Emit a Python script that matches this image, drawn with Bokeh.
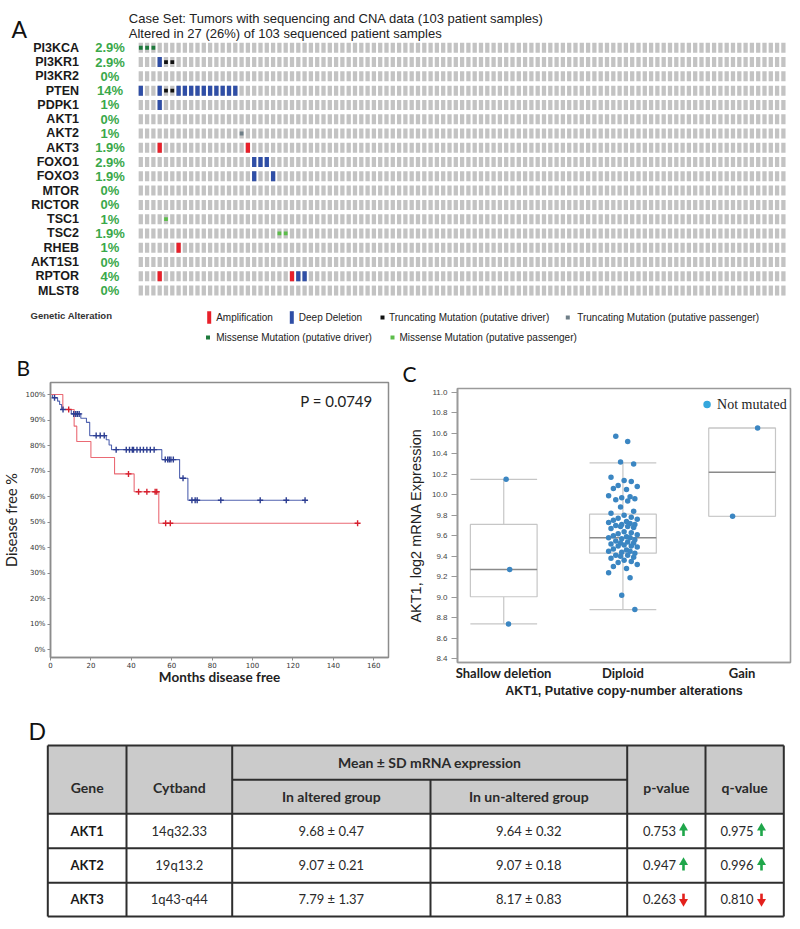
from bokeh.plotting import figure
from bokeh.layouts import column, row
from bokeh.models import Range1d, FixedTicker, NumeralTickFormatter, PrintfTickFormatter, Title
from bokeh.embed import file_html
from bokeh.resources import INLINE
from bokeh.core.properties import value

# ---------------- Panel A data ----------------
genes = ["PI3KCA", "PI3KR1", "PI3KR2", "PTEN", "PDPK1", "AKT1", "AKT2", "AKT3", "FOXO1",
         "FOXO3", "MTOR", "RICTOR", "TSC1", "TSC2", "RHEB", "AKT1S1", "RPTOR", "MLST8"]
gene_pct = ["2.9%", "2.9%", "0%", "14%", "1%", "0%", "1%", "1.9%", "2.9%",
            "1.9%", "0%", "0%", "1%", "1.9%", "1%", "0%", "4%", "0%"]
n_samples = 103
case_set_text = "Case Set: Tumors with sequencing and CNA data (103 patient samples)"
altered_text = "Altered in 27 (26%) of 103 sequenced patient samples"
alt_gene = (["PI3KCA"] * 3 + ["PI3KR1"] * 3 + ["PTEN"] * 14 + ["PDPK1"] + ["AKT2"] + ["AKT3"] * 2
            + ["FOXO1"] * 3 + ["FOXO3"] * 2 + ["TSC1"] + ["TSC2"] * 2 + ["RHEB"] + ["RPTOR"] * 4)
alt_sample = [0, 1, 2, 3, 4, 5, 0, 3, 4, 5, 6, 7, 8, 9, 10, 11, 12, 13, 14, 15, 3, 16, 3, 17,
              18, 19, 20, 18, 21, 4, 22, 23, 6, 3, 24, 25, 26]
alt_type = (["MIS_D"] * 3 + ["DEL", "TRU_D", "TRU_D"] + ["DEL", "DEL", "TRU_D", "TRU_D"] + ["DEL"] * 10
            + ["DEL"] + ["TRU_P"] + ["AMP", "AMP"] + ["DEL"] * 3 + ["DEL"] * 2 + ["MIS_P"]
            + ["MIS_P"] * 2 + ["AMP"] + ["AMP", "AMP", "DEL", "DEL"])
legend_labels = ["Amplification", "Deep Deletion", "Truncating Mutation (putative driver)",
                 "Truncating Mutation (putative passenger)", "Missense Mutation (putative driver)",
                 "Missense Mutation (putative passenger)"]

# ---------------- Panel B data ----------------
blue_time = [0, 1.0, 3.5, 4.5, 5.5, 10.3, 15.0, 17.8, 19.4, 27.6, 29.0, 30.2, 55.1, 63.9, 68.0, 126.0]
blue_surv = [100, 98.7, 97.4, 96.1, 94.1, 92.4, 90.7, 89.1, 83.9, 82.3, 80.2, 78.4, 74.5, 67.2, 58.6, 58.6]
blue_cens_t = [2.0, 6.2, 11.5, 12.5, 13.3, 14.2, 22.6, 24.6, 26.6, 32.5, 37.5, 39.1, 40.5, 41.1, 42.8,
               44.4, 46.0, 47.7, 49.4, 51.3, 56.8, 58.0, 58.8, 59.6, 60.8, 65.6, 70.0, 71.6, 72.6,
               84.3, 103.8, 116.7, 126.0]
blue_cens_s = [98.7, 94.1, 92.4, 92.4, 92.4, 92.4, 83.9, 83.9, 83.9, 78.4, 78.4, 78.4, 78.4, 78.4, 78.4,
               78.4, 78.4, 78.4, 78.4, 78.4, 74.5, 74.5, 74.5, 74.5, 74.5, 67.2, 58.6, 58.6, 58.6,
               58.6, 58.6, 58.6, 58.6]
red_time = [0, 6.1, 11.7, 13.0, 20.0, 31.7, 41.4, 53.6, 152.0]
red_surv = [100, 94.1, 87.6, 81.6, 75.3, 68.9, 61.9, 49.6, 49.6]
red_cens_t = [9.0, 38.6, 43.6, 47.7, 51.8, 52.6, 57.0, 59.3, 152.0]
red_cens_s = [94.1, 68.9, 61.9, 61.9, 61.9, 61.9, 49.6, 49.6, 49.6]
km_xticks = [0, 20, 40, 60, 80, 100, 120, 140, 160]
km_yticks = [0, 10, 20, 30, 40, 50, 60, 70, 80, 90, 100]
p_text = "P = 0.0749"

# ---------------- Panel C data ----------------
cna_categories = ["Shallow deletion", "Diploid", "Gain"]
shallow_vals = [10.15, 9.27, 8.74]
diploid_vals = [10.57, 10.52, 10.32, 10.30, 10.17, 10.14, 10.13, 10.09, 10.08, 10.06, 10.05, 9.99,
                9.98, 9.97, 9.96, 9.95, 9.94, 9.88, 9.84, 9.82, 9.80, 9.78, 9.77, 9.76, 9.75, 9.74,
                9.73, 9.72, 9.71, 9.71, 9.70, 9.69, 9.69, 9.68, 9.67, 9.64, 9.63, 9.62, 9.61, 9.60,
                9.59, 9.58, 9.58, 9.57, 9.56, 9.55, 9.54, 9.53, 9.53, 9.52, 9.51, 9.50, 9.50, 9.49,
                9.47, 9.46, 9.45, 9.45, 9.44, 9.43, 9.41, 9.41, 9.40, 9.39, 9.38, 9.36, 9.35, 9.34,
                9.32, 9.30, 9.28, 9.24, 9.19, 9.02, 8.88]
gain_vals = [10.65, 9.79]
box_lo = [8.74, 8.88, 9.79]
box_q1 = [9.005, 9.43, 9.79]
box_med = [9.27, 9.58, 10.22]
box_q3 = [9.71, 9.81, 10.65]
box_hi = [10.15, 10.31, 10.65]
c_yticks = [8.4, 8.6, 8.8, 9.0, 9.2, 9.4, 9.6, 9.8, 10.0, 10.2, 10.4, 10.6, 10.8, 11.0]

# ---------------- Panel D data ----------------
tbl_gene = ["AKT1", "AKT2", "AKT3"]
tbl_cytband = ["14q32.33", "19q13.2", "1q43-q44"]
tbl_altered = ["9.68 ± 0.47", "9.07 ± 0.21", "7.79 ± 1.37"]
tbl_unaltered = ["9.64 ± 0.32", "9.07 ± 0.18", "8.17 ± 0.83"]
tbl_p = ["0.753", "0.947", "0.263"]
tbl_q = ["0.975", "0.996", "0.810"]
tbl_dir = ["up", "up", "down"]

ARIAL = value("Liberation Sans")
LATO = value("Lato")


def bare(p):
    p.outline_line_color = None
    p.grid.visible = False
    return p


# =============== Figure A (page y 0..346) ===============
A_H = 346
pA = bare(figure(width=800, height=A_H, x_range=Range1d(0, 800), y_range=Range1d(A_H, 0),
                 output_backend="svg", toolbar_location=None, min_border=0,
                 x_axis_location=None, y_axis_location=None))
X0, PX, Y0, PY = 140.3, 6.30, 47.3, 14.28
pA.extra_x_ranges = {"col": Range1d((0 - X0) / PX, (800 - X0) / PX)}
pA.extra_y_ranges = {"row": Range1d((A_H - Y0) / PY, (0 - Y0) / PY)}

ng = len(genes)
bg_x = [s for g in range(ng) for s in range(n_samples)]
bg_y = [g for g in range(ng) for s in range(n_samples)]
pA.rect(x=bg_x, y=bg_y, width=0.68, height=0.70, fill_color="#c3c3c3", line_color=None,
        x_range_name="col", y_range_name="row")

type_color = {"AMP": "#e8202a", "DEL": "#2f4ea6", "TRU_D": "#111111", "TRU_P": "#6f7f88",
              "MIS_D": "#1e7a3c", "MIS_P": "#5cbd4a"}
row_of = {g: i for i, g in enumerate(genes)}
full = [i for i, t in enumerate(alt_type) if t in ("AMP", "DEL")]
small = [i for i, t in enumerate(alt_type) if t not in ("AMP", "DEL")]
pA.rect(x=[alt_sample[i] for i in full], y=[row_of[alt_gene[i]] for i in full], width=0.68, height=0.70,
        fill_color=[type_color[alt_type[i]] for i in full], line_color=None,
        x_range_name="col", y_range_name="row")
pA.rect(x=[alt_sample[i] for i in small], y=[row_of[alt_gene[i]] for i in small], width=0.60, height=0.27,
        fill_color=[type_color[alt_type[i]] for i in small], line_color=None,
        x_range_name="col", y_range_name="row")

pA.text(x=[78.5] * ng, y=list(range(ng)), text=genes, y_range_name="row", text_align="right",
        text_baseline="middle", text_font=ARIAL, text_font_style="bold", text_font_size="12.5px",
        text_color="#1a1a1a")
pA.text(x=[109.5] * ng, y=list(range(ng)), text=gene_pct, y_range_name="row", text_align="center",
        text_baseline="middle", text_font=ARIAL, text_font_style="bold", text_font_size="13px",
        text_color="#3aa84a")
pA.text(x=[128.3, 128.3], y=[17.5, 32.5], text=[case_set_text, altered_text], text_align="left",
        text_baseline="middle", text_font=ARIAL, text_font_size="13px", text_color="#222222")
pA.text(x=[11], y=[28], text=["A"], text_align="left", text_baseline="middle", text_font=LATO,
        text_font_size="23px", text_color="#111111")
# legend
pA.text(x=[30], y=[315], text=["Genetic Alteration"], text_baseline="middle", text_font=ARIAL,
        text_font_style="bold", text_font_size="9.5px", text_color="#333333")
pA.rect(x=[208.7, 291.3], y=[317, 317], width=4, height=12.6,
        fill_color=[type_color["AMP"], type_color["DEL"]], line_color=None)
pA.rect(x=[382, 567.3, 207.5, 392], y=[317, 317, 337.0, 337.0], width=4, height=4,
        fill_color=[type_color["TRU_D"], type_color["TRU_P"], type_color["MIS_D"], type_color["MIS_P"]],
        line_color=None)
pA.text(x=[215.7, 298.3, 388.5, 576.7, 215.7, 399], y=[317, 317, 317, 317, 337.0, 337.0],
        text=legend_labels, text_baseline="middle", text_font=ARIAL, text_font_size="10px",
        text_color="#222222")

ROW_TOP, ROW_H = A_H, 366


def letter_title(txt, offset, standoff):
    return Title(text=txt, align="left", offset=offset, standoff=standoff, text_font="Lato",
                 text_font_size="21px", text_font_style="normal", text_color="#111111")


# =============== Figure B (KM) ===============
B_TOP = 382 - ROW_TOP
pB = figure(width=400, height=ROW_H, x_range=Range1d(0, 167.3), y_range=Range1d(-3.0, 104.7),
            output_backend="svg", toolbar_location=None, min_border_left=50, min_border_right=12,
            min_border_top=B_TOP, min_border_bottom=ROW_H - B_TOP - 275,
            title=letter_title("B", -34, 6))
pB.frame_align = False
pB.grid.visible = False
pB.outline_line_color = "#8c8c8c"
pB.outline_line_width = 1.5
pB.xaxis.ticker = FixedTicker(ticks=km_xticks)
pB.yaxis.ticker = FixedTicker(ticks=km_yticks)
pB.yaxis.formatter = PrintfTickFormatter(format="%d%%")
for ax in (pB.xaxis[0], pB.yaxis[0]):
    ax.axis_line_color = "#8c8c8c"
    ax.axis_line_width = 1.5
    ax.major_tick_line_color = "#8c8c8c"
    ax.major_tick_out = 3
    ax.major_tick_in = 0
    ax.minor_tick_line_color = None
    ax.major_label_text_font = "DejaVu Sans"
    ax.major_label_text_font_size = "7px"
    ax.major_label_text_color = "#333333"
    ax.major_label_standoff = 2
pB.xaxis.axis_label = "Months disease free"
pB.xaxis.axis_label_text_font = "Lato"
pB.xaxis.axis_label_text_font_style = "bold"
pB.xaxis.axis_label_text_font_size = "13.5px"
pB.xaxis.axis_label_text_color = "#222222"
pB.xaxis.axis_label_standoff = -2
pB.xaxis.major_label_standoff = 1
pB.yaxis.axis_label = "Disease free %"
pB.yaxis.axis_label_text_font = "Lato"
pB.yaxis.axis_label_text_font_style = "normal"
pB.yaxis.axis_label_text_font_size = "14.5px"
pB.yaxis.axis_label_text_color = "#222222"
pB.yaxis.axis_label_standoff = 2

pB.step(x=blue_time, y=blue_surv, mode="after", line_color="#5163b0", line_width=1.1)
pB.step(x=red_time, y=red_surv, mode="after", line_color="#ea6a74", line_width=1.1)
pB.scatter(x=blue_cens_t, y=blue_cens_s, marker="cross", size=6, line_color="#2c3d91", line_width=1.4)
pB.scatter(x=red_cens_t, y=red_cens_s, marker="cross", size=6, line_color="#d6202e", line_width=1.4)
pB.text(x=[123.6], y=[97.3], text=[p_text], text_baseline="middle", text_font=LATO,
        text_font_size="15px", text_color="#222222")

# =============== Figure C (boxplot) ===============
C_TOP = 388 - ROW_TOP
pC = figure(width=400, height=ROW_H, x_range=Range1d(-0.388, 2.406), y_range=Range1d(8.364, 11.036),
            output_backend="svg", toolbar_location=None, min_border_left=57, min_border_right=10,
            min_border_top=C_TOP, min_border_bottom=ROW_H - C_TOP - 274,
            title=letter_title("C", -55, 6))
pC.frame_align = False
pC.grid.visible = False
pC.outline_line_color = "#9a9a9a"
pC.outline_line_width = 1.6
pC.yaxis.ticker = FixedTicker(ticks=c_yticks)
pC.yaxis.formatter = NumeralTickFormatter(format="0.0")
pC.xaxis.ticker = FixedTicker(ticks=[0, 1, 2])
pC.xaxis.major_label_overrides = {i: c for i, c in enumerate(cna_categories)}
for ax in (pC.xaxis[0], pC.yaxis[0]):
    ax.axis_line_color = "#9a9a9a"
    ax.axis_line_width = 1.6
    ax.minor_tick_line_color = None
pC.yaxis.major_tick_line_color = "#9a9a9a"
pC.yaxis.major_tick_out = 6
pC.yaxis.major_tick_in = 0
pC.yaxis.major_label_text_font = "Liberation Sans"
pC.yaxis.major_label_text_font_size = "8px"
pC.yaxis.major_label_text_color = "#444444"
pC.yaxis.major_label_standoff = 4
pC.yaxis.axis_label = "AKT1, log2 mRNA Expression"
pC.yaxis.axis_label_text_font = "Liberation Sans"
pC.yaxis.axis_label_text_font_style = "normal"
pC.yaxis.axis_label_text_font_size = "14.5px"
pC.yaxis.axis_label_text_color = "#222222"
pC.yaxis.axis_label_standoff = 5
pC.xaxis.major_tick_line_color = None
pC.xaxis.major_tick_out = 0
pC.xaxis.major_label_text_font = "Lato"
pC.xaxis.major_label_text_font_style = "bold"
pC.xaxis.major_label_text_font_size = "13px"
pC.xaxis.major_label_text_color = "#222222"
pC.xaxis.major_label_standoff = 2
pC.xaxis.axis_label = "AKT1, Putative copy-number alterations"
pC.xaxis.axis_label_text_font = "Liberation Sans"
pC.xaxis.axis_label_text_font_style = "bold"
pC.xaxis.axis_label_text_font_size = "12.5px"
pC.xaxis.axis_label_text_color = "#222222"
pC.xaxis.axis_label_standoff = 0

cats = [0, 1, 2]
hw = 0.28
box_line = "#c6c6c6"
pC.segment(x0=cats, y0=box_q3, x1=cats, y1=box_hi, line_color=box_line, line_width=1.2)
pC.segment(x0=cats, y0=box_q1, x1=cats, y1=box_lo, line_color=box_line, line_width=1.2)
pC.segment(x0=[c - hw for c in cats], y0=box_hi, x1=[c + hw for c in cats], y1=box_hi,
           line_color=box_line, line_width=1.2)
pC.segment(x0=[c - hw for c in cats], y0=box_lo, x1=[c + hw for c in cats], y1=box_lo,
           line_color=box_line, line_width=1.2)
pC.quad(left=[c - hw for c in cats], right=[c + hw for c in cats], bottom=box_q1, top=box_q3,
        fill_color="white", line_color=box_line, line_width=1.2)
pC.segment(x0=[c - hw for c in cats], y0=box_med, x1=[c + hw for c in cats], y1=box_med,
           line_color="#8a8a8a", line_width=1.5)

jit_pattern = [-0.06, 0.04, -0.02, 0.09, -0.1, 0.01, 0.07, -0.04, 0.12, -0.08, 0.03, -0.12, 0.06, -0.01, 0.1]
pts_x = ([0 + d for d in [0.02, 0.05, 0.04]]
         + [1 + jit_pattern[i % len(jit_pattern)] for i in range(len(diploid_vals))]
         + [2 + d for d in [0.13, -0.08]])
pts_y = shallow_vals + diploid_vals + gain_vals
pC.scatter(x=pts_x, y=pts_y, size=5.5, fill_color="#3b86c2", line_color=None)
pC.scatter(x=[1.706], y=[10.88], size=7.5, fill_color="#35a7dd", line_color=None)
pC.text(x=[1.79], y=[10.88], text=["Not mutated"], text_baseline="middle",
        text_font=value("Liberation Serif"), text_font_size="14px", text_color="#222222")

# =============== Figure D (table) ===============
D_TOP = ROW_TOP + ROW_H
D_H = 925 - D_TOP
pD = bare(figure(width=800, height=D_H, x_range=Range1d(0, 800), y_range=Range1d(D_TOP + D_H, D_TOP),
                 output_backend="svg", toolbar_location=None, min_border=0,
                 x_axis_location=None, y_axis_location=None))
col_edges = [47.3, 126.0, 231.7, 430.0, 626.7, 705.0, 783.3]
row_edges = [745.0, 779.3, 813.3, 847.7, 882.3, 916.0]
line_c = "#2e2e2e"
pD.text(x=[28], y=[730], text=["D"], text_align="left", text_baseline="middle", text_font=LATO,
        text_font_size="23px", text_color="#111111")
pD.quad(left=[col_edges[0]], right=[col_edges[-1]], top=[row_edges[0]], bottom=[row_edges[2]],
        fill_color="#cbcbcb", line_color=None)
hx0 = [col_edges[0], col_edges[2], col_edges[0], col_edges[0], col_edges[0], col_edges[0]]
hx1 = [col_edges[-1], col_edges[4], col_edges[-1], col_edges[-1], col_edges[-1], col_edges[-1]]
hy = list(row_edges)
pD.segment(x0=hx0, y0=hy, x1=hx1, y1=hy, line_color=line_c, line_width=2)
vx = col_edges
vy0 = [row_edges[0], row_edges[0], row_edges[0], row_edges[1], row_edges[0], row_edges[0], row_edges[0]]
vy1 = [row_edges[-1]] * 7
pD.segment(x0=vx, y0=vy0, x1=vx, y1=vy1, line_color=line_c, line_width=2)


def mid(a, b):
    return (a + b) / 2


hdr_y = 787
pD.text(x=[mid(col_edges[0], col_edges[1]), mid(col_edges[1], col_edges[2]),
           mid(col_edges[4], col_edges[5]), mid(col_edges[5], col_edges[6]),
           mid(col_edges[2], col_edges[4]), mid(col_edges[2], col_edges[3]), mid(col_edges[3], col_edges[4])],
        y=[hdr_y, hdr_y, hdr_y, hdr_y, 761.5, 796, 796],
        text=["Gene", "Cytband", "p-value", "q-value", "Mean ± SD mRNA expression",
              "In altered group", "In un-altered group"],
        text_align="center", text_baseline="middle", text_font=LATO, text_font_style="bold",
        text_font_size="14px", text_color="#2a2a2a")
row_y = [mid(row_edges[i], row_edges[i + 1]) - 0.5 for i in range(2, 5)]
pD.text(x=[mid(col_edges[0], col_edges[1])] * 3, y=row_y, text=tbl_gene, text_align="center",
        text_baseline="middle", text_font=LATO, text_font_style="bold", text_font_size="13px",
        text_color="#1a1a1a")
for ci, col in ((1, tbl_cytband), (2, tbl_altered), (3, tbl_unaltered)):
    pD.text(x=[mid(col_edges[ci], col_edges[ci + 1])] * 3, y=row_y, text=col, text_align="center",
            text_baseline="middle", text_font=LATO, text_font_size="13px", text_color="#2a2a2a")
pD.text(x=[659] * 3, y=row_y, text=tbl_p, text_align="center", text_baseline="middle",
        text_font=LATO, text_font_size="13px", text_color="#2a2a2a")
pD.text(x=[736.5] * 3, y=row_y, text=tbl_q, text_align="center", text_baseline="middle",
        text_font=LATO, text_font_size="13px", text_color="#2a2a2a")
for ax_ in (683, 761):
    for d, yv in zip(tbl_dir, row_y):
        colr = "#1fa64a" if d == "up" else "#e3201c"
        if d == "up":
            pD.scatter(x=[ax_], y=[yv - 2.5], marker="triangle", size=9, fill_color=colr, line_color=None)
            pD.segment(x0=[ax_], y0=[yv - 1], x1=[ax_], y1=[yv + 5.5], line_color=colr, line_width=2.6)
        else:
            pD.scatter(x=[ax_], y=[yv + 2.5], marker="inverted_triangle", size=9, fill_color=colr,
                       line_color=None)
            pD.segment(x0=[ax_], y0=[yv + 1], x1=[ax_], y1=[yv - 5.5], line_color=colr, line_width=2.6)

layout = column(pA, row(pB, pC), pD)
open("out.html", "w").write(file_html(layout, INLINE))
